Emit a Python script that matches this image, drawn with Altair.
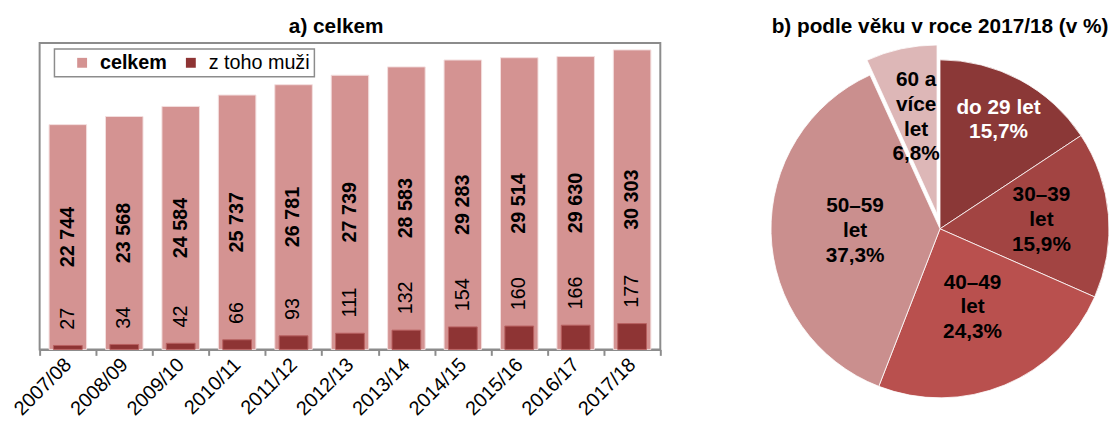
import math
import altair as alt
import pandas as pd

FONT = "Liberation Sans"

# ---- data: panel a) ----
years = ["2007/08", "2008/09", "2009/10", "2010/11", "2011/12", "2012/13",
         "2013/14", "2014/15", "2015/16", "2016/17", "2017/18"]
celkem = [22744, 23568, 24584, 25737, 26781, 27739, 28583, 29283, 29514, 29630, 30303]
muzi = [27, 34, 42, 66, 93, 111, 132, 154, 160, 166, 177]
series_names = ["celkem", "z toho muži"]

# ---- data: panel b) ----
age_groups = ["do 29 let", "30–39 let", "40–49 let", "50–59 let", "60 a více let"]
age_label_lines = ["do 29 let", "30–39\nlet", "40–49\nlet", "50–59\nlet", "60 a\nvíce\nlet"]
age_pct = [15.7, 15.9, 24.3, 37.3, 6.8]

PINK = "#d49392"
DARK = "#8e3434"
pie_colors = ["#8b3837", "#a24442", "#b9504e", "#ca8f8e", "#ddb7b7"]


def thousands(v):
    return f"{v:,}".replace(",", " ")


bars_df = pd.DataFrame({
    "rok": years,
    "celkem": celkem,
    "muzi": muzi,
    "celkem_lbl": [thousands(v) for v in celkem],
    "muzi_lbl": [str(v) for v in muzi],
})

x_enc = alt.X(
    "rok:N", sort=years,
    scale=alt.Scale(paddingInner=0, paddingOuter=0),
    axis=alt.Axis(title=None, labelAngle=-45, labelFontSize=20, labelFont=FONT,
                  labelColor="black", labelAlign="right", labelBaseline="middle",
                  tickBand="extent", domainColor="#8c8c8c",
                  domainWidth=2, tickColor="#8c8c8c", tickWidth=2, tickSize=6,
                  labelPadding=6),
)

color_scale = alt.Scale(domain=series_names, range=[PINK, DARK])
legend = alt.Legend(
    title=None, orient="none", legendX=15, legendY=6, direction="horizontal",
    fillColor="white", strokeColor="#8c8c8c", padding=4,
    symbolType="square", symbolSize=100, symbolStrokeWidth=0, symbolOffset=14,
    labelFontSize=20, labelFont=FONT, labelColor="black", labelOffset=8,
    columnPadding=0,
    labelFontWeight=alt.ExprRef("datum.label == 'celkem' ? 'bold' : 'normal'"),
)

base = alt.Chart(bars_df)
y_tot = alt.Scale(domain=[0, 31000])
y_men = alt.Scale(domain=[0, 2100])

bar_tot = base.transform_calculate(serie="'celkem'").mark_bar(
    width=alt.RelativeBandSize(0.665), stroke="#f3dede", strokeWidth=1
).encode(
    x=x_enc,
    y=alt.Y("celkem:Q", scale=y_tot, axis=None),
    color=alt.Color("serie:N", scale=color_scale, legend=legend),
)

bar_men = base.transform_calculate(serie="'z toho muži'").mark_bar(
    width=alt.RelativeBandSize(0.51), stroke="#b86060", strokeWidth=1
).encode(
    x=x_enc,
    y=alt.Y("muzi:Q", scale=y_men, axis=None),
    color=alt.Color("serie:N", scale=color_scale, legend=legend),
)

txt_tot = base.transform_calculate(mid="datum.celkem / 2").mark_text(
    angle=270, align="center", baseline="middle", fontSize=20,
    fontWeight="bold", font=FONT, color="black"
).encode(
    x=x_enc,
    y=alt.Y("mid:Q", scale=y_tot, axis=None),
    text="celkem_lbl:N",
)

txt_men = base.mark_text(
    angle=270, align="left", baseline="middle", dx=16, fontSize=20,
    font=FONT, color="black"
).encode(
    x=x_enc,
    y=alt.Y("muzi:Q", scale=y_men, axis=None),
    text="muzi_lbl:N",
)

bar_chart = alt.layer(bar_tot, bar_men, txt_tot, txt_men).resolve_scale(
    y="independent"
).properties(
    width=628, height=310,
    title=alt.TitleParams("a) celkem", fontSize=21, fontWeight="bold", font=FONT,
                          color="black", anchor="middle", offset=6, dx=-14),
    view=alt.ViewBackground(stroke="#8c8c8c", strokeWidth=2),
)

# ---- pie ----
pie_df = pd.DataFrame({
    "poradi": list(range(len(age_groups))),
    "skupina": age_groups,
    "pct": age_pct,
    "popis": [f"{l}\n{str(p).replace('.', ',')}%" for l, p in zip(age_label_lines, age_pct)],
})

theta_scale = alt.Scale(domain=[0, 100], range=[0, 2 * math.pi])
pie_base = alt.Chart(pie_df).transform_window(
    cum="sum(pct)", sort=[alt.SortField("poradi")]
).transform_calculate(
    start="datum.cum - datum.pct", mid="datum.cum - datum.pct / 2"
)

pie_color = alt.Color("skupina:N", scale=alt.Scale(domain=age_groups, range=pie_colors),
                      legend=None)
EXPL = "60 a více let"

arc_main = pie_base.transform_filter(f"datum.skupina != '{EXPL}'").mark_arc(
    radius=171, stroke="white", strokeWidth=0.8
).encode(
    theta=alt.Theta("start:Q", scale=theta_scale), theta2="cum:Q", color=pie_color
)
arc_expl = pie_base.transform_filter(f"datum.skupina == '{EXPL}'").mark_arc(
    radius=171, stroke="white", strokeWidth=0.8, xOffset=-3, yOffset=-15
).encode(
    theta=alt.Theta("start:Q", scale=theta_scale), theta2="cum:Q", color=pie_color
)

LH = 25


def pie_text(flt, radius, color, nlines, **kw):
    return pie_base.transform_filter(flt).mark_text(
        radius=radius, fontSize=21, fontWeight="bold", font=FONT, color=color,
        align="center", baseline="middle", lineBreak="\n", lineHeight=LH,
        dy=-(nlines - 1) * LH / 2, **kw
    ).encode(theta=alt.Theta("mid:Q", scale=theta_scale), text="popis:N")


lbl1 = pie_text("datum.skupina == 'do 29 let'", 125, "white", 2)
lbl2 = pie_text("datum.skupina == '30–39 let'", 103, "black", 3)
lbl3 = pie_text("datum.skupina == '40–49 let' || datum.skupina == '50–59 let'", 86, "black", 3)
lbl4 = pie_text(f"datum.skupina == '{EXPL}'", 100, "black", 4, xOffset=-3, yOffset=-15)

pie_chart = alt.layer(arc_main, arc_expl, lbl1, lbl2, lbl3, lbl4).properties(
    width=342, height=376,
    title=alt.TitleParams("b) podle věku v roce 2017/18 (v %)", fontSize=21,
                          fontWeight="bold", font=FONT, color="black",
                          anchor="middle", offset=6),
    view=alt.ViewBackground(strokeWidth=0),
)

chart = alt.hconcat(bar_chart, pie_chart, spacing=108).resolve_scale(
    color="independent", theta="independent"
).resolve_legend(color="independent").properties(
    padding={"left": 1, "top": 5, "right": 0, "bottom": 0},
    background="white",
).configure(font=FONT).configure_legend(strokeWidth=1.5)

chart.save("out.html", embed_options={"renderer": "svg", "actions": False})
